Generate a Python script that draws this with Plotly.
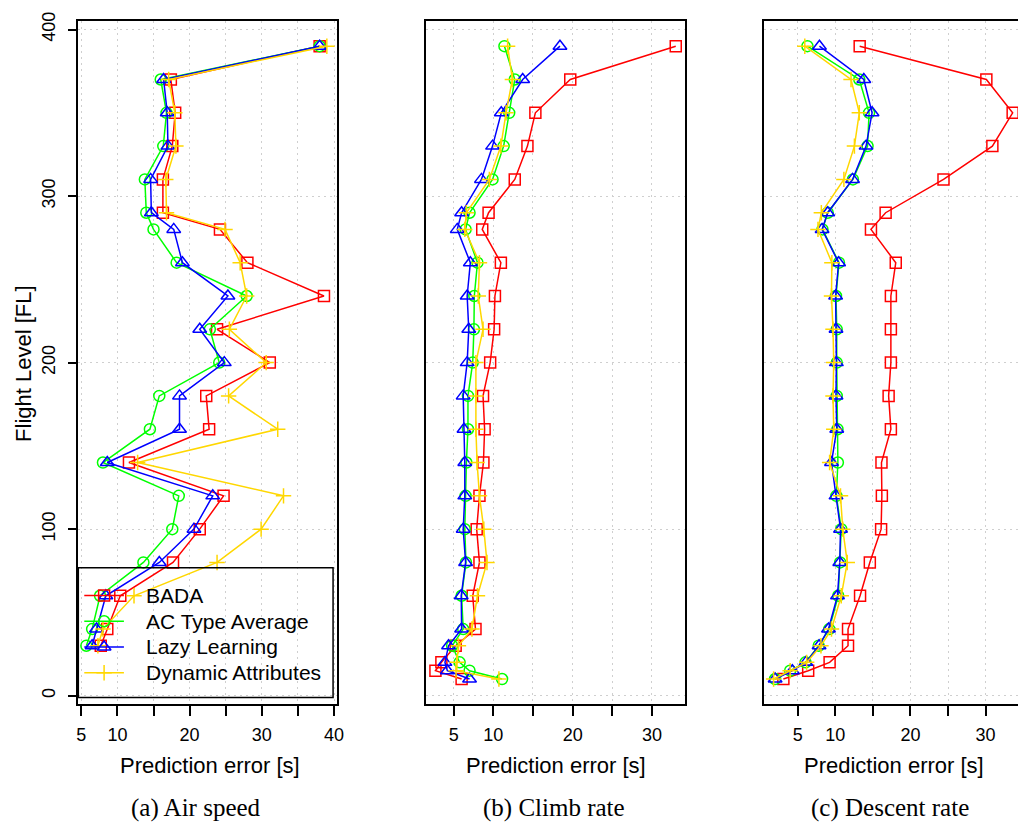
import plotly.graph_objects as go

W, H = 1025, 826

# ---------------- data ----------------
series_names = ["BADA", "AC Type Average", "Lazy Learning", "Dynamic Attributes"]
series_colors = ["#FF0000", "#00FF00", "#0000FF", "#FFD700"]
series_symbols = ["square-open", "circle-open", "triangle-up-open", "cross-thin-open"]
series_sizes = [11, 11, 12, 11]

# (a) Air speed
fl_a = [30, 40, 60, 80, 100, 120, 140, 160, 180, 200, 220, 240, 260, 280, 290, 310, 330, 350, 370, 390]
a_bada = [7.7, 8.6, 10.4, 17.7, 21.4, 24.7, 11.6, 22.7, 22.3, 31.1, 23.8, 38.6, 28.0, 24.2, 16.3, 16.3, 17.6, 18.0, 17.4, 38.0]
a_act = [5.7, 6.5, 7.6, 13.6, 17.6, 18.5, 8.0, 14.5, 15.8, 24.1, 22.8, 27.9, 18.2, 15.0, 14.0, 13.8, 16.35, 16.8, 16.0, 38.0]
a_lazy = [6.5, 7.1, 8.4, 15.8, 20.6, 23.2, 8.6, 18.6, 18.6, 24.8, 21.4, 25.3, 19.0, 17.8, 14.7, 14.6, 17.0, 16.9, 16.4, 38.0]
a_dyn = [7.3, 8.0, 12.3, 23.8, 29.9, 33.0, 12.8, 32.2, 25.4, 30.6, 25.5, 27.9, 27.0, 24.9, 16.8, 16.7, 18.1, 17.95, 17.1, 39.0]

# (b) Climb rate
fl_b = [10, 15, 20, 30, 40, 60, 80, 100, 120, 140, 160, 180, 200, 220, 240, 260, 280, 290, 310, 330, 350, 370, 390]
b_bada = [6.0, 2.7, 3.45, 5.25, 7.75, 7.4, 8.25, 7.9, 8.25, 8.75, 8.9, 8.7, 9.6, 10.1, 10.2, 10.95, 8.6, 9.4, 12.7, 14.3, 15.3, 19.7, 33.0]
b_act = [11.1, 7.0, 5.75, 4.8, 6.2, 6.0, 6.55, 6.4, 6.5, 6.6, 6.8, 6.8, 7.4, 7.55, 7.6, 8.0, 6.5, 7.0, 9.9, 11.3, 12.0, 12.7, 11.4]
b_lazy = [7.0, 4.2, 3.9, 4.35, 6.0, 5.95, 6.5, 6.2, 6.4, 6.4, 6.3, 6.2, 6.7, 6.9, 6.7, 7.1, 5.45, 6.0, 8.5, 9.9, 11.0, 13.7, 18.4]
b_dyn = [10.7, 5.3, 5.4, 5.6, 7.3, 8.0, 9.2, 8.8, 8.25, 7.95, 7.8, 7.8, 7.8, 8.7, 8.1, 8.25, 6.4, 6.6, 9.5, 10.95, 11.6, 12.4, 11.8]

# (c) Descent rate
fl_c = [10, 15, 20, 30, 40, 60, 80, 100, 120, 140, 160, 180, 200, 220, 240, 260, 280, 290, 310, 330, 350, 370, 390]
c_bada = [3.1, 6.4, 9.25, 11.7, 11.7, 13.3, 14.6, 16.1, 16.2, 16.15, 17.4, 17.1, 17.4, 17.4, 17.4, 18.05, 14.75, 16.7, 24.4, 30.9, 33.6, 30.1, 13.25]
c_act = [2.0, 4.0, 6.05, 7.8, 9.2, 10.4, 10.65, 10.8, 10.15, 10.35, 10.3, 10.2, 10.2, 10.2, 10.1, 10.5, 8.3, 9.0, 12.35, 14.3, 14.5, 13.2, 6.3]
c_lazy = [2.0, 4.3, 6.1, 7.85, 9.1, 10.3, 10.6, 10.7, 10.1, 9.5, 10.2, 10.1, 10.15, 10.1, 10.05, 10.45, 8.25, 9.0, 12.3, 14.1, 14.9, 13.8, 7.9]
c_dyn = [1.8, 4.0, 6.2, 8.1, 9.5, 10.8, 11.6, 11.0, 10.7, 9.25, 9.8, 9.7, 9.8, 9.7, 9.5, 9.55, 7.7, 8.15, 11.15, 12.55, 13.2, 12.1, 5.95]

x_tick_vals_a = [5, 10, 15, 20, 25, 30, 35, 40]
x_tick_text_a = ["5", "10", "", "20", "", "30", "", "40"]
x_tick_vals_bc = [5, 10, 15, 20, 25, 30]
x_tick_text_bc = ["5", "10", "", "20", "", "30"]
y_tick_vals = [0, 100, 200, 300, 400]
y_tick_text = ["0", "100", "200", "300", "400"]

x_title = "Prediction error [s]"
y_title = "Flight Level [FL]"
captions = ["(a) Air speed", "(b) Climb rate", "(c) Descent rate"]

# ---------------- figure ----------------
SANS = "Liberation Sans, Arial, Helvetica, sans-serif"
SERIF = "Liberation Serif, Times New Roman, serif"

def fx(p):
    return p / W

def fy(p):
    return 1 - p / H

panels = [
    (fl_a, [a_bada, a_act, a_lazy, a_dyn], "x", "y"),
    (fl_b, [b_bada, b_act, b_lazy, b_dyn], "x2", "y2"),
    (fl_c, [c_bada, c_act, c_lazy, c_dyn], "x3", "y3"),
]

fig = go.Figure()
for fl, vals, xa, ya in panels:
    for i, v in enumerate(vals):
        fig.add_trace(go.Scatter(
            x=v, y=fl, xaxis=xa, yaxis=ya, mode="lines+markers",
            name=series_names[i], showlegend=False, hoverinfo="skip",
            line=dict(color=series_colors[i], width=1.5),
            marker=dict(symbol=series_symbols[i], size=series_sizes[i],
                        color=series_colors[i],
                        line=dict(color=series_colors[i], width=1.5)),
        ))

# legend (drawn in a pixel-coordinate overlay axis)
leg_box = (77, 565, 334, 696)
leg_rows = [593, 619, 645, 671]
for i, yy in enumerate(leg_rows):
    fig.add_trace(go.Scatter(
        x=[83, 123], y=[yy, yy], xaxis="x4", yaxis="y4", mode="lines",
        showlegend=False, hoverinfo="skip",
        line=dict(color=series_colors[i], width=1.5)))
    fig.add_trace(go.Scatter(
        x=[103], y=[yy], xaxis="x4", yaxis="y4", mode="markers",
        showlegend=False, hoverinfo="skip",
        marker=dict(symbol=series_symbols[i], size=series_sizes[i],
                    color=series_colors[i],
                    line=dict(color=series_colors[i], width=1.5))))

grid = dict(showgrid=True, gridcolor="#cfcfcf", griddash="2px,4px", gridwidth=1, zeroline=False)
frame = dict(showline=True, linecolor="black", linewidth=1.5)
tickfont = dict(family=SANS, size=18, color="black")

y_dom = [fy(703), fy(12)]
y_rng = [-5.2, 405.2]

def xaxis(dom, rng, tv, tt, anchor):
    return dict(domain=dom, range=rng, anchor=anchor, mirror=True, **frame, **grid,
                tickmode="array", tickvals=tv, ticktext=tt, ticks="outside",
                ticklen=10, tickwidth=1.5, tickcolor="black", tickfont=tickfont,
                ticklabelstandoff=3)

fig.update_layout(
    width=W, height=H,
    margin=dict(l=0, r=0, t=0, b=0),
    paper_bgcolor="white", plot_bgcolor="rgba(0,0,0,0)",
    showlegend=False,
    xaxis=xaxis([fx(77), fx(338)], [4.59, 40.41], x_tick_vals_a, x_tick_text_a, "y"),
    xaxis2=xaxis([fx(428), fx(689)], [1.54, 34.16], x_tick_vals_bc, x_tick_text_bc, "y2"),
    xaxis3=xaxis([fx(769), 1.0], [0.556, 34.31], x_tick_vals_bc, x_tick_text_bc, "y3"),
    yaxis=dict(domain=y_dom, range=y_rng, anchor="x", mirror=True, **frame, **grid,
               tickmode="array", tickvals=y_tick_vals, ticktext=y_tick_text,
               ticks="outside", ticklen=9, tickwidth=1.5, tickcolor="black",
               tickfont=tickfont, tickangle=-90, ticklabelstandoff=5),
    yaxis2=dict(domain=y_dom, range=y_rng, anchor="x2", mirror=True, **frame, **grid,
                tickmode="array", tickvals=y_tick_vals, showticklabels=False, ticks=""),
    yaxis3=dict(domain=y_dom, range=y_rng, anchor="x3", mirror=False, **frame, **grid,
                tickmode="array", tickvals=y_tick_vals, showticklabels=False, ticks=""),
    xaxis4=dict(domain=[0, 1], range=[0, W], anchor="y4", visible=False, fixedrange=True),
    yaxis4=dict(domain=[0, 1], range=[H, 0], anchor="x4", visible=False, fixedrange=True),
)

shapes = [dict(type="rect", xref="x4", yref="y4",
               x0=leg_box[0], y0=leg_box[1], x1=leg_box[2], y1=leg_box[3],
               line=dict(color="black", width=1.5), fillcolor="rgba(0,0,0,0)")]
fig.update_layout(shapes=shapes)

annotations = []
for i, yy in enumerate(leg_rows):
    annotations.append(dict(x=fx(143), y=fy(yy), xref="paper", yref="paper",
                            text=series_names[i], showarrow=False,
                            xanchor="left", yanchor="middle",
                            font=dict(family=SANS, size=21, color="black")))
for cx in [210, 559, 900]:
    annotations.append(dict(x=fx(cx), y=fy(765), xref="paper", yref="paper",
                            text=x_title, showarrow=False, xanchor="center", yanchor="middle",
                            font=dict(family=SANS, size=22, color="black")))
for cx, cap in zip([196, 557, 896], captions):
    annotations.append(dict(x=fx(cx), y=fy(808), xref="paper", yref="paper",
                            text=cap, showarrow=False, xanchor="center", yanchor="middle",
                            font=dict(family=SERIF, size=25, color="black")))
annotations.append(dict(x=fx(21), y=fy(358), xref="paper", yref="paper",
                        text=y_title, showarrow=False, textangle=-90,
                        xanchor="center", yanchor="middle",
                        font=dict(family=SANS, size=22, color="black")))
fig.update_layout(annotations=annotations)

fig.write_html("out.html")
